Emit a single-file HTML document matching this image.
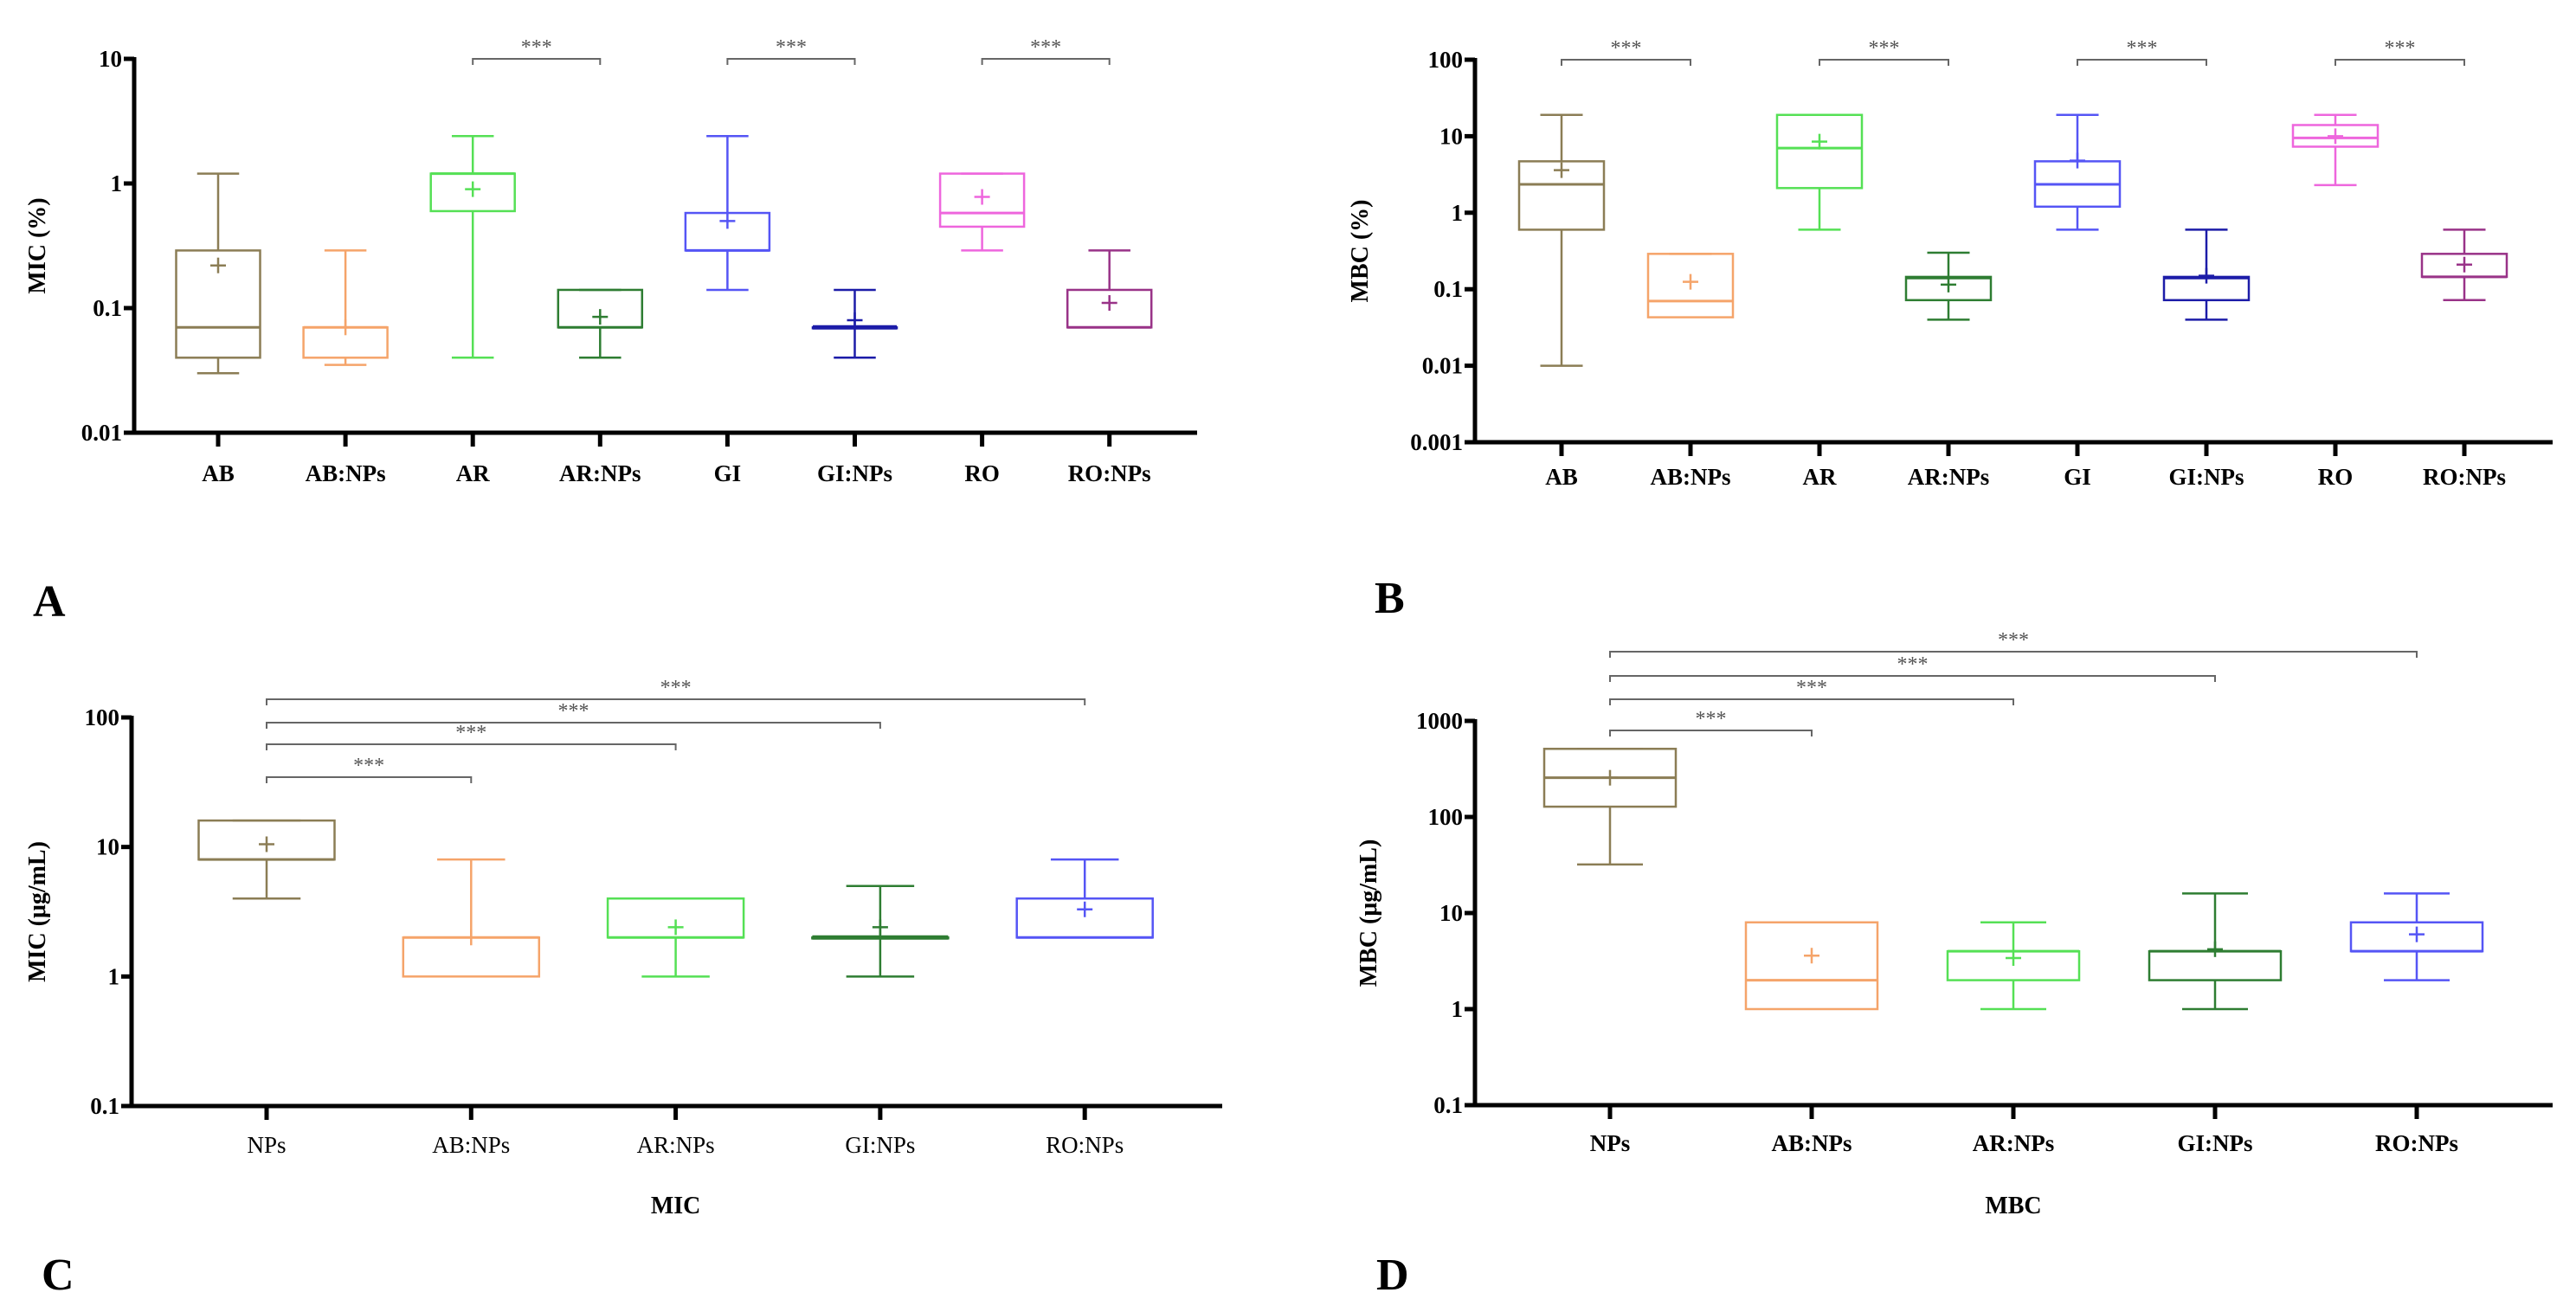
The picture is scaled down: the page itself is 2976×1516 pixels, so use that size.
<!DOCTYPE html>
<html><head><meta charset="utf-8"><style>
html,body{margin:0;padding:0;background:#fff;}
svg{display:block;}
text{font-family:"Liberation Serif",serif;}
</style></head><body>
<svg id="fig" width="2976" height="1516" viewBox="0 0 2976 1516" xmlns="http://www.w3.org/2000/svg"></svg>
<script>
// Panel A: MIC (%)
const aCats=["AB","AB:NPs","AR","AR:NPs","GI","GI:NPs","RO","RO:NPs"];
const aLow=[0.03,0.035,0.04,0.04,0.14,0.04,0.29,0.07];
const aQ1=[0.04,0.04,0.6,0.07,0.29,0.07,0.45,0.07];
const aMed=[0.07,0.07,1.2,0.07,0.29,0.07,0.58,0.07];
const aQ3=[0.29,0.07,1.2,0.14,0.58,0.07,1.2,0.14];
const aHigh=[1.2,0.29,2.4,0.14,2.4,0.14,1.2,0.29];
const aMean=[0.22,0.07,0.9,0.085,0.5,0.08,0.78,0.11];
const aTicks=[0.01,0.1,1,10];
const aTickLabels=["0.01","0.1","1","10"];
// Panel B: MBC (%)
const bCats=["AB","AB:NPs","AR","AR:NPs","GI","GI:NPs","RO","RO:NPs"];
const bLow=[0.01,0.043,0.6,0.04,0.6,0.04,2.3,0.072];
const bQ1=[0.6,0.043,2.1,0.072,1.2,0.072,7.3,0.145];
const bMed=[2.35,0.07,7,0.14,2.35,0.14,9.5,0.145];
const bQ3=[4.7,0.29,19,0.145,4.7,0.145,14,0.29];
const bHigh=[19,0.29,19,0.3,19,0.6,19,0.6];
const bMean=[3.6,0.125,8.5,0.115,4.8,0.15,10,0.21];
const bTicks=[0.001,0.01,0.1,1,10,100];
const bTickLabels=["0.001","0.01","0.1","1","10","100"];
// Panel C: MIC (µg/mL)
const cCats=["NPs","AB:NPs","AR:NPs","GI:NPs","RO:NPs"];
const cLow=[4,1,1,1,2];
const cQ1=[8,1,2,2,2];
const cMed=[8,2,2,2,2];
const cQ3=[16,2,4,2,4];
const cHigh=[16,8,4,5,8];
const cMean=[10.5,2,2.4,2.4,3.3];
const cTicks=[0.1,1,10,100];
const cTickLabels=["0.1","1","10","100"];
// Panel D: MBC (µg/mL)
const dCats=["NPs","AB:NPs","AR:NPs","GI:NPs","RO:NPs"];
const dLow=[32,1,1,1,2];
const dQ1=[128,1,2,2,4];
const dMed=[256,2,4,4,4];
const dQ3=[512,8,4,4,8];
const dHigh=[512,8,8,16,16];
const dMean=[256,3.6,3.4,4.2,6];
const dTicks=[0.1,1,10,100,1000];
const dTickLabels=["0.1","1","10","100","1000"];

const NS="http://www.w3.org/2000/svg";
const svg=document.getElementById('fig');
function mk(tag,attrs,parent){const e=document.createElementNS(NS,tag);for(const k in attrs)e.setAttribute(k,attrs[k]);(parent||svg).appendChild(e);return e;}

function panel(p){
  const g=mk('g',{});
  
  
  const lmin=Math.log10(p.ticks[0]),lmax=Math.log10(p.ticks[p.ticks.length-1]);
  const y=v=>p.yBot-(Math.log10(v)-lmin)/(lmax-lmin)*(p.yBot-p.yTop);
  const x=i=>p.x0+i*p.dx;
  // axes
  const ya=mk('line',{x1:p.ax,y1:p.yTop-2,x2:p.ax,y2:p.yBot+2,stroke:'#000','stroke-width':5},g);
  
  const xa=mk('line',{x1:p.ax-10,y1:p.yBot,x2:p.xEnd,y2:p.yBot,stroke:'#000','stroke-width':5},g);
  
  p.ticks.forEach((t,i)=>{
    mk('line',{x1:p.ax-12,y1:y(t),x2:p.ax,y2:y(t),stroke:'#000','stroke-width':5},g);
    const tl=mk('text',{x:p.ax-14,y:y(t)+9,'text-anchor':'end','font-size':27,'font-weight':'bold'},g);
    tl.textContent=p.tickLabels[i];
    
  });
  p.cats.forEach((c,i)=>{
    mk('line',{x1:x(i),y1:p.yBot,x2:x(i),y2:p.yBot+16,stroke:'#000','stroke-width':5},g);
    const xl=mk('text',{x:x(i),y:p.labY,'text-anchor':'middle','font-size':27,'font-weight':p.labBold?'bold':'normal'},g);
    xl.textContent=c;
    
    const col=p.colors[i];const hw=p.bw/2;
    const bg=mk('g',{stroke:col,'stroke-width':2.5,fill:'none'},g);
    
    
    // whiskers
    if(p.high[i]>p.q3[i]){mk('line',{x1:x(i),y1:y(p.q3[i]),x2:x(i),y2:y(p.high[i])},bg);}
    if(p.high[i]>=p.q3[i] && !(p.high[i]===p.q3[i]&&p.low[i]===p.q1[i]&&i>=0&&p.noCap&&p.noCap[i]))mk('line',{x1:x(i)-hw*0.5,y1:y(p.high[i]),x2:x(i)+hw*0.5,y2:y(p.high[i])},bg);
    if(p.low[i]<p.q1[i]){mk('line',{x1:x(i),y1:y(p.q1[i]),x2:x(i),y2:y(p.low[i])},bg);
      mk('line',{x1:x(i)-hw*0.5,y1:y(p.low[i]),x2:x(i)+hw*0.5,y2:y(p.low[i])},bg);}
    mk('rect',{x:x(i)-hw,y:y(p.q3[i]),width:p.bw,height:Math.max(1,y(p.q1[i])-y(p.q3[i]))},bg);
    mk('line',{x1:x(i)-hw,y1:y(p.med[i]),x2:x(i)+hw,y2:y(p.med[i]),'stroke-width':p.q1[i]===p.q3[i]?5:3},bg);
    // mean +
    mk('line',{x1:x(i)-9,y1:y(p.mean[i]),x2:x(i)+9,y2:y(p.mean[i])},bg);
    mk('line',{x1:x(i),y1:y(p.mean[i])-9,x2:x(i),y2:y(p.mean[i])+9},bg);
  });
  // significance brackets
  p.brackets.forEach(b=>{
    const bg=mk('g',{stroke:'#666','stroke-width':2,fill:'none'},g);
    
    mk('path',{d:`M${x(b[0])},${b[2]+7} V${b[2]} H${x(b[1])} V${b[2]+7}`},bg);
    const st=mk('text',{x:(x(b[0])+x(b[1]))/2,y:b[2]-6,'text-anchor':'middle','font-size':24,fill:'#555',stroke:'none'},g);
    st.textContent='***';
    
  });
  const yt=mk('text',{x:0,y:0,'text-anchor':'middle','font-size':28,'font-weight':'bold',transform:`translate(${p.ytX},${(p.yTop+p.yBot)/2}) rotate(-90)`},g);
  yt.textContent=p.ytitle;
  if(p.xtitle){const xt=mk('text',{x:(x(0)+x(p.cats.length-1))/2,y:p.xtY,'text-anchor':'middle','font-size':28,'font-weight':'bold'},g);
    xt.textContent=p.xtitle;}
  const L=mk('text',{x:p.letX,y:p.letY,'font-size':52,'font-weight':'bold'},g);
  L.textContent=p.letter;
}
const c8=['#8b7d55','#f5a46a','#55e055','#2e7d32','#5555f5','#1c1ca8','#ee66dd','#993388'];
const c5=['#8b7d55','#f5a46a','#55e055','#2e7d32','#5555f5'];
panel({name:'panel-a-mic-percent',cats:aCats,low:aLow,q1:aQ1,med:aMed,q3:aQ3,high:aHigh,mean:aMean,ticks:aTicks,tickLabels:aTickLabels,
  ax:155,xEnd:1383,yTop:68,yBot:500,x0:252,dx:147.1,bw:97,labY:556,labBold:true,colors:c8,
  brackets:[[2,3,68],[4,5,68],[6,7,68]],ytitle:'MIC (%)',ytX:52,letter:'A',letX:38,letY:712});
panel({name:'panel-b-mbc-percent',cats:bCats,low:bLow,q1:bQ1,med:bMed,q3:bQ3,high:bHigh,mean:bMean,ticks:bTicks,tickLabels:bTickLabels,
  ax:1704,xEnd:2949,yTop:69,yBot:511,x0:1804,dx:149,bw:98,labY:560,labBold:true,colors:c8,
  brackets:[[0,1,69],[2,3,69],[4,5,69],[6,7,69]],ytitle:'MBC (%)',ytX:1580,letter:'B',letX:1588,letY:708});
panel({name:'panel-c-mic-ugml',cats:cCats,low:cLow,q1:cQ1,med:cMed,q3:cQ3,high:cHigh,mean:cMean,ticks:cTicks,tickLabels:cTickLabels,
  ax:152,xEnd:1412,yTop:829,yBot:1278,x0:308,dx:236.3,bw:157,labY:1332,labBold:false,colors:c5,
  brackets:[[0,1,898],[0,2,860],[0,3,835],[0,4,808]],ytitle:'MIC (μg/mL)',ytX:52,xtitle:'MIC',xtY:1402,letter:'C',letX:48,letY:1490});
panel({name:'panel-d-mbc-ugml',cats:dCats,low:dLow,q1:dQ1,med:dMed,q3:dQ3,high:dHigh,mean:dMean,ticks:dTicks,tickLabels:dTickLabels,
  ax:1704,xEnd:2949,yTop:833,yBot:1277,x0:1860,dx:233,bw:152,labY:1330,labBold:true,colors:c5,
  brackets:[[0,1,844],[0,2,808],[0,3,781],[0,4,753]],ytitle:'MBC (μg/mL)',ytX:1590,xtitle:'MBC',xtY:1402,letter:'D',letX:1590,letY:1490});
</script>
</body></html>
